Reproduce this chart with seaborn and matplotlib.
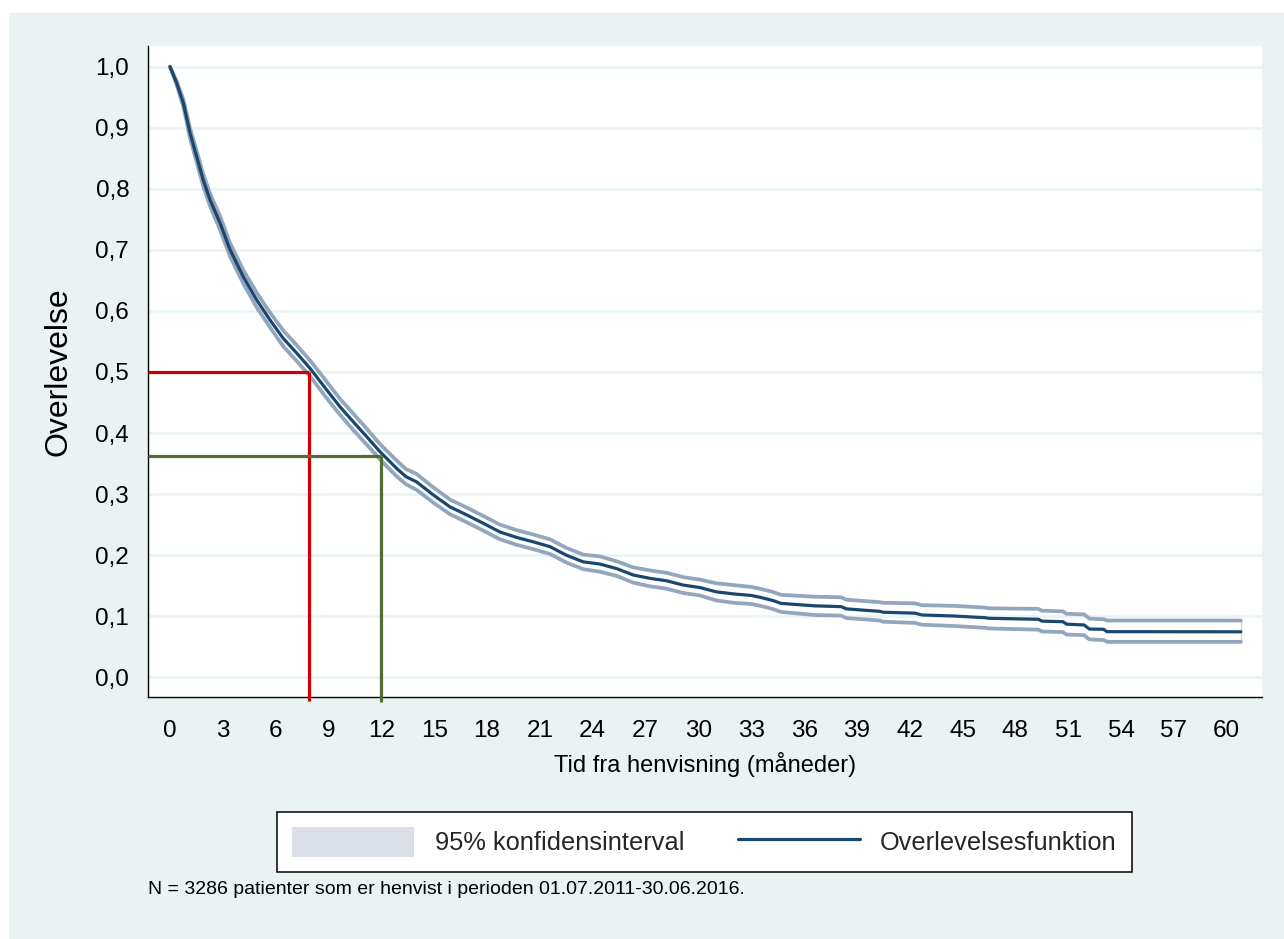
import matplotlib
matplotlib.use("Agg")
import matplotlib.pyplot as plt
import seaborn as sns
import pandas as pd
from matplotlib.patches import Patch, Rectangle
from matplotlib.lines import Line2D

# ---------------- data ----------------
months = [0, 0.38, 0.76, 1.14, 1.51, 1.89, 2.27, 2.84, 3.41, 4.16, 4.92, 5.68, 6.43, 7.19,
          7.95, 8.9, 9.65, 10.4, 11.17, 11.92, 12.87, 13.4, 14.0, 14.95, 15.9, 16.84, 17.8,
          18.73, 19.68, 20.6, 21.57, 22.5, 23.46, 24.4, 25.36, 26.3, 27.25, 28.2, 29.14,
          30.08, 31.0, 32.0, 33.0, 33.5, 34.2, 34.7, 36.6, 38.1, 38.4, 40.3, 40.5, 42.3,
          42.7, 44.5, 46.3, 46.5, 49.3, 49.5, 50.7, 50.9, 51.9, 52.2, 53.0, 53.2, 60.8]
survival = [1.0, 0.973, 0.940, 0.891, 0.853, 0.814, 0.782, 0.744, 0.700, 0.656, 0.618, 0.585,
            0.555, 0.531, 0.506, 0.4705, 0.443, 0.4186, 0.394, 0.3695, 0.342, 0.3285, 0.320,
            0.2986, 0.279, 0.266, 0.252, 0.238, 0.229, 0.222, 0.214, 0.200, 0.189, 0.1855,
            0.178, 0.1675, 0.162, 0.158, 0.151, 0.147, 0.140, 0.1365, 0.134, 0.131, 0.126,
            0.121, 0.117, 0.1157, 0.112, 0.108, 0.1065, 0.105, 0.102, 0.1004, 0.0975, 0.0966,
            0.095, 0.092, 0.091, 0.087, 0.0857, 0.079, 0.0786, 0.0747, 0.0745]
ci_lower = [1.0, 0.970, 0.934, 0.883, 0.844, 0.804, 0.772, 0.733, 0.689, 0.645, 0.606, 0.573,
            0.542, 0.518, 0.493, 0.457, 0.430, 0.405, 0.381, 0.357, 0.329, 0.316, 0.307,
            0.286, 0.267, 0.254, 0.240, 0.226, 0.217, 0.210, 0.202, 0.188, 0.177, 0.173,
            0.166, 0.155, 0.149, 0.145, 0.138, 0.134, 0.126, 0.122, 0.120, 0.117, 0.112,
            0.107, 0.102, 0.101, 0.097, 0.093, 0.091, 0.089, 0.086, 0.084, 0.081, 0.080,
            0.078, 0.075, 0.074, 0.070, 0.069, 0.062, 0.061, 0.058, 0.058]
ci_upper = [1.0, 0.976, 0.946, 0.899, 0.862, 0.824, 0.792, 0.755, 0.711, 0.667, 0.630, 0.597,
            0.568, 0.544, 0.519, 0.484, 0.456, 0.432, 0.407, 0.382, 0.355, 0.341, 0.333,
            0.311, 0.291, 0.278, 0.264, 0.250, 0.241, 0.234, 0.226, 0.212, 0.201, 0.198,
            0.190, 0.180, 0.175, 0.171, 0.164, 0.160, 0.154, 0.151, 0.148, 0.145, 0.140,
            0.135, 0.132, 0.131, 0.127, 0.123, 0.122, 0.121, 0.118, 0.117, 0.114, 0.113,
            0.112, 0.109, 0.108, 0.104, 0.103, 0.096, 0.095, 0.093, 0.093]

median_month = 7.9
median_surv = 0.5
one_year_month = 12
one_year_surv = 0.363

x_ticks = list(range(0, 61, 3))
y_ticks = [0.0, 0.1, 0.2, 0.3, 0.4, 0.5, 0.6, 0.7, 0.8, 0.9, 1.0]
y_tick_labels = ["0,0", "0,1", "0,2", "0,3", "0,4", "0,5", "0,6", "0,7", "0,8", "0,9", "1,0"]

x_label = "Tid fra henvisning (måneder)"
y_label = "Overlevelse"
legend_labels = ["95% konfidensinterval", "Overlevelsesfunktion"]
note = "N = 3286 patienter som er henvist i perioden 01.07.2011-30.06.2016."

# ---------------- styling ----------------
BG = "#eaf2f3"
NAVY = "#1a476f"
CI_COL = "#92a6bd"
CI_PATCH = "#dadfe8"
RED = "#cc0000"
GREEN = "#556b2f"

sns.set_style("white")
plt.rcParams["font.family"] = ["Liberation Sans", "DejaVu Sans"]

W, H = 1284, 939
fig = plt.figure(figsize=(W / 100, H / 100), dpi=100, facecolor=BG)
# white strips at top and left of the image
fig.patches.append(Rectangle((0, 1 - 13 / H), 1, 13 / H, transform=fig.transFigure,
                             facecolor="white", edgecolor="none", zorder=-1))
fig.patches.append(Rectangle((0, 0), 9 / W, 1, transform=fig.transFigure,
                             facecolor="white", edgecolor="none", zorder=-1))

ax_l, ax_r, ax_t, ax_b = 148, 1262, 46, 697
ax = fig.add_axes([ax_l / W, 1 - ax_b / H, (ax_r - ax_l) / W, (ax_b - ax_t) / H])
ax.set_facecolor("white")

df = pd.DataFrame({"t": months, "s": survival, "lo": ci_lower, "hi": ci_upper})

# grid lines
for yv in y_ticks:
    ax.axhline(yv, color=BG, lw=1.9, zorder=0)

# CI lines
sns.lineplot(data=df, x="t", y="lo", ax=ax, color=CI_COL, lw=2.7, estimator=None,
             sort=False, zorder=2)
sns.lineplot(data=df, x="t", y="hi", ax=ax, color=CI_COL, lw=2.7, estimator=None,
             sort=False, zorder=2)
ax.vlines(months[-1], ci_lower[-1], ci_upper[-1], color=CI_COL, lw=1.0, alpha=0.5, zorder=2)
# survival function
sns.lineplot(data=df, x="t", y="s", ax=ax, color=NAVY, lw=2.3, estimator=None,
             sort=False, zorder=3)

xmin, xmax = -1.25, 62.0
ymin, ymax = -0.0323, 1.0339
ax.set_xlim(xmin, xmax)
ax.set_ylim(ymin, ymax)

# median and 1-year reference lines
ax.plot([xmin, median_month], [median_surv, median_surv], color=RED, lw=2.3, zorder=4,
        clip_on=False, solid_capstyle="butt")
ax.plot([median_month, median_month], [-0.039, median_surv], color=RED, lw=2.3, zorder=4,
        clip_on=False, solid_capstyle="butt")
ax.plot([xmin, one_year_month], [one_year_surv, one_year_surv], color=GREEN, lw=2.3,
        zorder=4, clip_on=False, solid_capstyle="butt")
ax.plot([one_year_month, one_year_month], [-0.041, one_year_surv], color=GREEN, lw=2.3,
        zorder=4, clip_on=False, solid_capstyle="butt")

# axes appearance
for side in ["top", "right"]:
    ax.spines[side].set_visible(False)
for side in ["left", "bottom"]:
    ax.spines[side].set_color("black")
    ax.spines[side].set_linewidth(1.0)
ax.set_xticks(x_ticks)
ax.set_yticks(y_ticks)
ax.set_yticklabels(y_tick_labels)
ax.tick_params(axis="both", direction="out", length=9, width=1.0, color="black",
               labelsize=17.5, labelcolor="black")
ax.tick_params(axis="x", pad=7.5)
ax.tick_params(axis="y", pad=4.5)

ax.set_xlabel(x_label, fontsize=17, color="black")
ax.set_ylabel(y_label, fontsize=23, color="black")
ax.xaxis.set_label_coords(0.5, -0.084)
ax.yaxis.set_label_coords(-0.067, 0.5)

# legend
handles = [Patch(facecolor=CI_PATCH, edgecolor="none"),
           Line2D([0], [0], color=NAVY, lw=2.3)]
leg = fig.legend(handles, legend_labels, loc="center",
                 bbox_to_anchor=(704.5 / W, 1 - 842 / H), bbox_transform=fig.transFigure,
                 ncol=2, fontsize=18.3, frameon=True, fancybox=False, framealpha=1,
                 edgecolor="black", facecolor="white", handlelength=4.8, handleheight=1.38,
                 handletextpad=0.8, columnspacing=2.1, borderpad=0.62)
leg.get_frame().set_linewidth(1.1)

fig.text(148 / W, 1 - 894 / H, note, fontsize=14, color="black", va="baseline", ha="left")

fig.savefig("out.png", dpi=100, facecolor=BG)
